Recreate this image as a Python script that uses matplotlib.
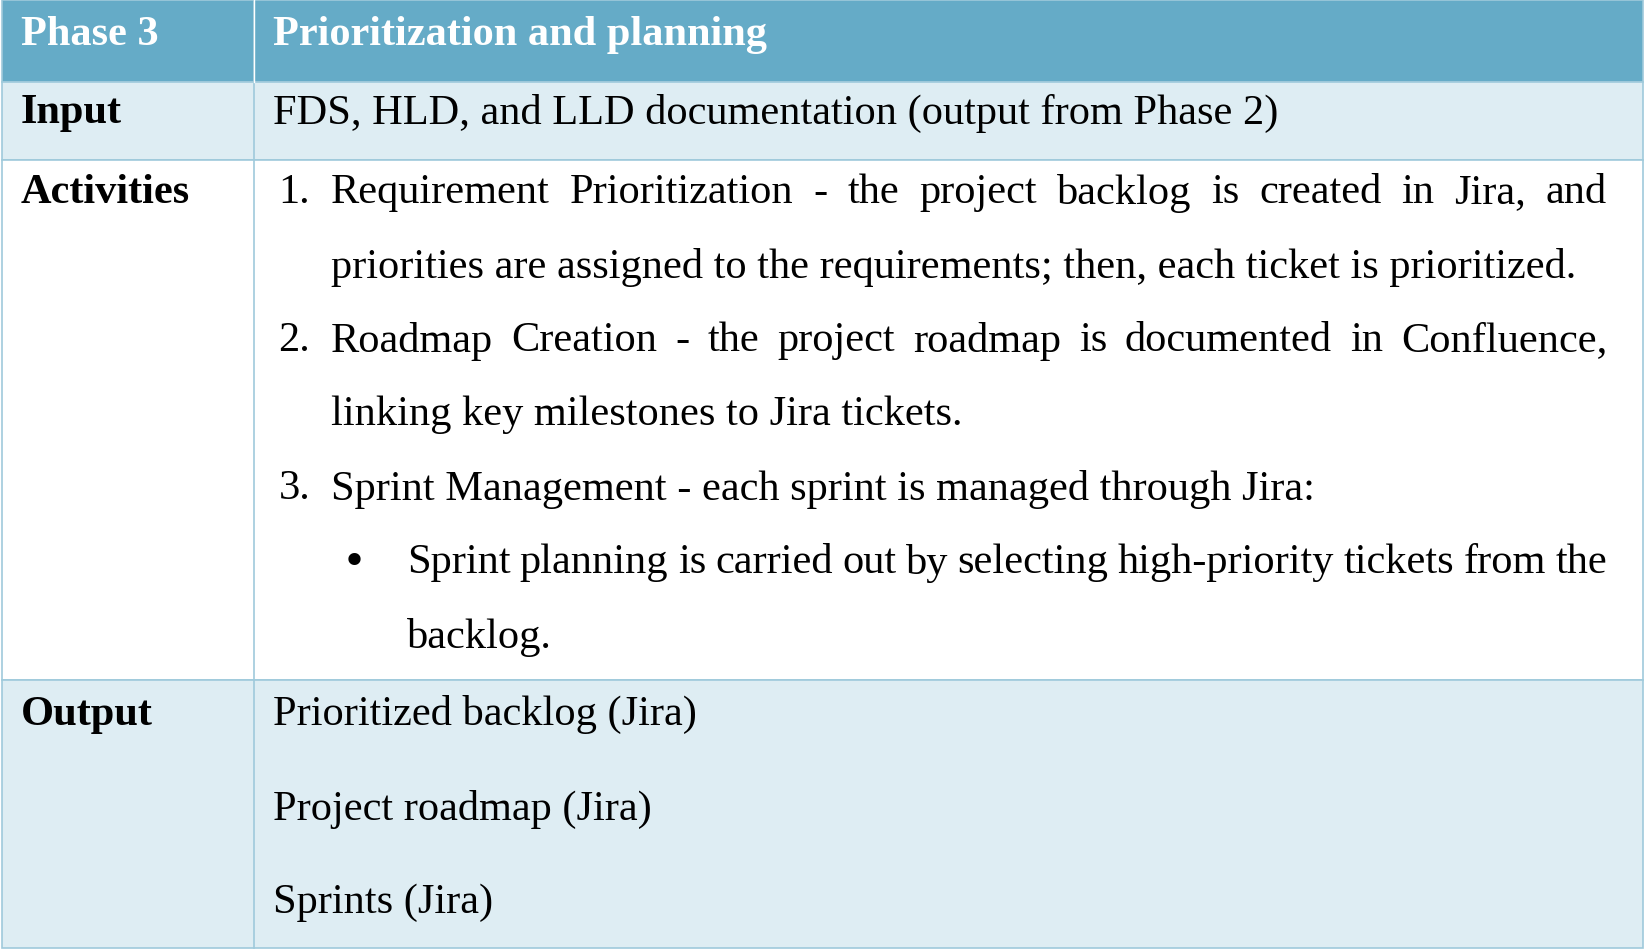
import matplotlib.pyplot as plt
from matplotlib.patches import Rectangle

plt.rcParams['font.family'] = ['Liberation Serif', 'DejaVu Serif']

W, H = 1566.0, 905.0   # layout measured on reference
header = ['Phase 3', 'Prioritization and planning']
row_labels = ['Input', 'Activities', 'Output']
input_text = 'FDS, HLD, and LLD documentation (output from Phase 2)'
# (marker, text, justified)
activity_lines = [
    ('1.', 'Requirement Prioritization - the project backlog is created in Jira, and', True),
    ('', 'priorities are assigned to the requirements; then, each ticket is prioritized.', False),
    ('2.', 'Roadmap Creation - the project roadmap is documented in Confluence,', True),
    ('', 'linking key milestones to Jira tickets.', False),
    ('3.', 'Sprint Management - each sprint is managed through Jira:', False),
]
bullet_lines = [
    ('Sprint planning is carried out by selecting high-priority tickets from the', True),
    ('backlog.', False),
]
output_lines = ['Prioritized backlog (Jira)', 'Project roadmap (Jira)', 'Sprints (Jira)']

fig = plt.figure(figsize=(16.46, 9.5), dpi=100)
ax = fig.add_axes([0, 0, 1, 1])
ax.set_xlim(0, W)
ax.set_ylim(H, 0)
ax.axis('off')

rows = [(0, 78, '#65abc7'), (78, 152, '#deedf3'), (152, 648, '#ffffff'), (648, 903, '#deedf3')]
for y0, y1, c in rows:
    ax.add_patch(Rectangle((2, y0), 1561, y1 - y0, facecolor=c, edgecolor='#9fcadb', lw=1.2))
ax.plot([242, 242], [0, 903], color='#9fcadb', lw=1.2)
ax.plot([242, 242], [0, 78], color='#ffffff', lw=1.0)

fs = 30.5
dy = 3
ax.text(20, 30 + dy, header[0], fontsize=fs, fontweight='bold', color='white', va='center')
ax.text(260, 30 + dy, header[1], fontsize=fs, fontweight='bold', color='white', va='center')
for lab, y in zip(row_labels, [105, 181, 678]):
    ax.text(20, y + dy, lab, fontsize=fs, fontweight='bold', color='black', va='center')
ax.text(260, 105 + dy, input_text, fontsize=fs, va='center')

fig.canvas.draw()
renderer = fig.canvas.get_renderer()


def put_line(x0, x1, y, text, justify):
    if not justify:
        ax.text(x0, y, text, fontsize=fs, va='center')
        return
    words = text.split(' ')
    objs = [ax.text(0, y, w, fontsize=fs, va='center') for w in words]
    inv = ax.transData.inverted()
    widths = []
    for o in objs:
        bb = o.get_window_extent(renderer)
        p0 = inv.transform((bb.x0, 0))[0]
        p1 = inv.transform((bb.x1, 0))[0]
        widths.append(p1 - p0)
    gap = (x1 - x0 - sum(widths)) / (len(words) - 1)
    x = x0
    for o, w in zip(objs, widths):
        o.set_x(x)
        x += w + gap


y = 181 + dy
for mark, text, just in activity_lines:
    if mark:
        ax.text(265, y, mark, fontsize=fs, va='center')
    put_line(315, 1529, y, text, just)
    y += 70.5
for i, (text, just) in enumerate(bullet_lines):
    if i == 0:
        ax.text(325, y, '\u2022', fontsize=fs, va='center', family='DejaVu Sans')
    put_line(387, 1529, y, text, just)
    y += 70.5

for t, yy in zip(output_lines, [678, 768, 857]):
    ax.text(260, yy + dy, t, fontsize=fs, va='center')

fig.savefig('out.png', dpi=100)
